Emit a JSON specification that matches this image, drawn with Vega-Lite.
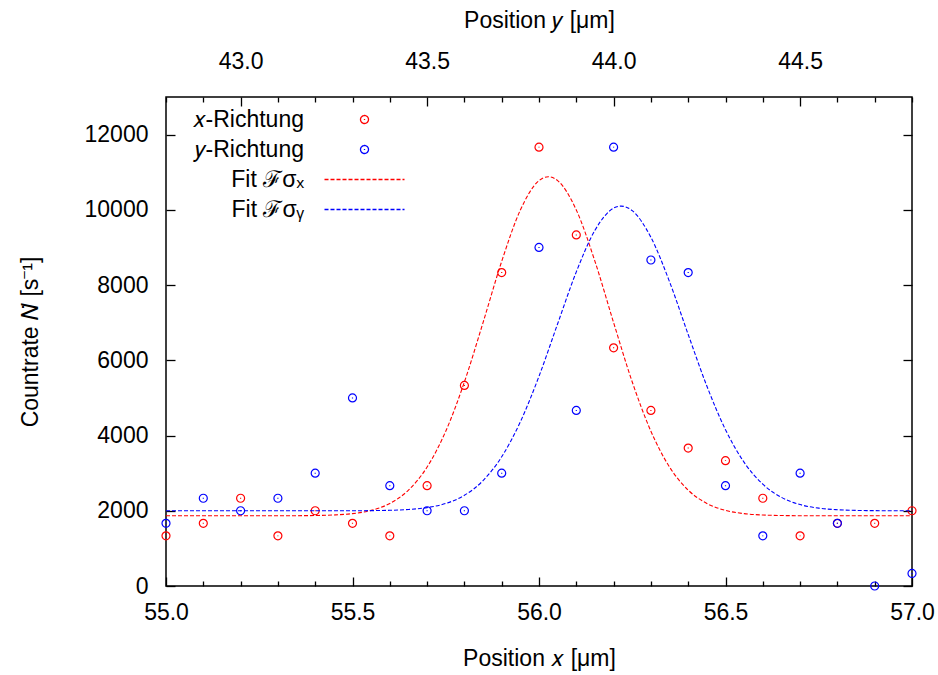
{
  "$schema": "https://vega.github.io/schema/vega-lite/v6.json",
  "width": 746,
  "height": 489,
  "autosize": "none",
  "padding": {"left": 166, "top": 97, "right": 26, "bottom": 89},
  "background": "white",
  "config": {
    "font": "Liberation Sans",
    "view": {"stroke": "black", "strokeWidth": 1.5},
    "axis": {
      "labelFont": "Liberation Sans", "labelFontSize": 23, "labelColor": "black",
      "titleFont": "Liberation Sans", "titleFontSize": 23, "titleFontWeight": "normal", "titleColor": "black",
      "domain": false, "grid": false, "tickColor": "black", "tickWidth": 1.3,
      "labelFlush": false, "labelOverlap": false
    }
  },
  "datasets": {
    "xdata": [
      {"pos": 55.0, "rate": 1333}, {"pos": 55.1, "rate": 1667}, {"pos": 55.2, "rate": 2333},
      {"pos": 55.3, "rate": 1333}, {"pos": 55.4, "rate": 2000}, {"pos": 55.5, "rate": 1667},
      {"pos": 55.6, "rate": 1333}, {"pos": 55.7, "rate": 2667}, {"pos": 55.8, "rate": 5333},
      {"pos": 55.9, "rate": 8333}, {"pos": 56.0, "rate": 11667}, {"pos": 56.1, "rate": 9333},
      {"pos": 56.2, "rate": 6333}, {"pos": 56.3, "rate": 4667}, {"pos": 56.4, "rate": 3667},
      {"pos": 56.5, "rate": 3333}, {"pos": 56.6, "rate": 2333}, {"pos": 56.7, "rate": 1333},
      {"pos": 56.8, "rate": 1667}, {"pos": 56.9, "rate": 1667}, {"pos": 57.0, "rate": 2000}
    ],
    "ydata": [
      {"pos": 42.8, "rate": 1667}, {"pos": 42.9, "rate": 2333}, {"pos": 43.0, "rate": 2000},
      {"pos": 43.1, "rate": 2333}, {"pos": 43.2, "rate": 3000}, {"pos": 43.3, "rate": 5000},
      {"pos": 43.4, "rate": 2667}, {"pos": 43.5, "rate": 2000}, {"pos": 43.6, "rate": 2000},
      {"pos": 43.7, "rate": 3000}, {"pos": 43.8, "rate": 9000}, {"pos": 43.9, "rate": 4667},
      {"pos": 44.0, "rate": 11667}, {"pos": 44.1, "rate": 8667}, {"pos": 44.2, "rate": 8333},
      {"pos": 44.3, "rate": 2667}, {"pos": 44.4, "rate": 1333}, {"pos": 44.5, "rate": 3000},
      {"pos": 44.6, "rate": 1667}, {"pos": 44.7, "rate": 0}, {"pos": 44.8, "rate": 333}
    ],
    "xfit": [
      {"pos": 55.0, "rate": 1867}, {"pos": 55.2, "rate": 1867}, {"pos": 55.3, "rate": 1868},
      {"pos": 55.35, "rate": 1869}, {"pos": 55.4, "rate": 1874}, {"pos": 55.45, "rate": 1888},
      {"pos": 55.5, "rate": 1924}, {"pos": 55.55, "rate": 2010}, {"pos": 55.6, "rate": 2194},
      {"pos": 55.65, "rate": 2548}, {"pos": 55.7, "rate": 3162}, {"pos": 55.75, "rate": 4115},
      {"pos": 55.8, "rate": 5424}, {"pos": 55.85, "rate": 7003}, {"pos": 55.9, "rate": 8631},
      {"pos": 55.95, "rate": 9995}, {"pos": 56.0, "rate": 10777}, {"pos": 56.025, "rate": 10880},
      {"pos": 56.05, "rate": 10777}, {"pos": 56.1, "rate": 9995}, {"pos": 56.15, "rate": 8631},
      {"pos": 56.2, "rate": 7003}, {"pos": 56.25, "rate": 5424}, {"pos": 56.3, "rate": 4115},
      {"pos": 56.35, "rate": 3162}, {"pos": 56.4, "rate": 2548}, {"pos": 56.45, "rate": 2194},
      {"pos": 56.5, "rate": 2010}, {"pos": 56.55, "rate": 1924}, {"pos": 56.6, "rate": 1888},
      {"pos": 56.65, "rate": 1874}, {"pos": 56.7, "rate": 1869}, {"pos": 56.8, "rate": 1867},
      {"pos": 57.0, "rate": 1867}
    ],
    "yfit": [
      {"pos": 42.8, "rate": 2000}, {"pos": 43.3, "rate": 2001}, {"pos": 43.4, "rate": 2012},
      {"pos": 43.45, "rate": 2034}, {"pos": 43.5, "rate": 2084}, {"pos": 43.55, "rate": 2194},
      {"pos": 43.6, "rate": 2411}, {"pos": 43.65, "rate": 2802}, {"pos": 43.7, "rate": 3436},
      {"pos": 43.75, "rate": 4364}, {"pos": 43.8, "rate": 5576}, {"pos": 43.85, "rate": 6972},
      {"pos": 43.9, "rate": 8351}, {"pos": 43.95, "rate": 9457}, {"pos": 44.0, "rate": 10046},
      {"pos": 44.02, "rate": 10100}, {"pos": 44.05, "rate": 9978}, {"pos": 44.1, "rate": 9270},
      {"pos": 44.15, "rate": 8088}, {"pos": 44.2, "rate": 6686}, {"pos": 44.25, "rate": 5315},
      {"pos": 44.3, "rate": 4155}, {"pos": 44.35, "rate": 3287}, {"pos": 44.4, "rate": 2707},
      {"pos": 44.45, "rate": 2357}, {"pos": 44.5, "rate": 2165}, {"pos": 44.55, "rate": 2070},
      {"pos": 44.6, "rate": 2028}, {"pos": 44.65, "rate": 2010}, {"pos": 44.7, "rate": 2003},
      {"pos": 44.8, "rate": 2000}
    ]
  },
  "layer": [
    {
      "encoding": {
        "x": {
          "field": "pos", "type": "quantitative",
          "scale": {"domain": [55.0, 57.0], "nice": false, "zero": false},
          "axis": {
            "orient": "bottom",
            "values": [55.0, 55.1, 55.2, 55.3, 55.4, 55.5, 55.6, 55.7, 55.8, 55.9, 56.0, 56.1, 56.2, 56.3, 56.4, 56.5, 56.6, 56.7, 56.8, 56.9, 57.0],
            "labelExpr": "round(datum.value*10) % 5 === 0 ? format(datum.value, '.1f') : ''",
            "tickSize": {"condition": {"test": "round(datum.value*10) % 5 === 0", "value": -9}, "value": -5},
            "labelPadding": 24,
            "title": "Position 𝑥 [μm]",
            "titlePadding": 19
          }
        },
        "y": {
          "field": "rate", "type": "quantitative",
          "scale": {"domain": [0, 13000], "nice": false},
          "axis": {
            "orient": "left",
            "values": [0, 2000, 4000, 6000, 8000, 10000, 12000],
            "format": "d",
            "tickSize": -9,
            "labelPadding": 27,
            "title": "Countrate 𝑁̇ [s⁻¹]",
            "titlePadding": 42
          }
        }
      },
      "layer": [
        {
          "data": {"name": "xfit"},
          "mark": {"type": "line", "strokeWidth": 1.1, "strokeDash": [4, 2], "interpolate": "monotone", "clip": true},
          "encoding": {
            "color": {
              "datum": "Fit ℱσₓ", "type": "nominal",
              "scale": {"domain": ["𝑥-Richtung", "𝑦-Richtung", "Fit ℱσₓ", "Fit ℱσᵧ"], "range": ["#ff0000", "#0000ff", "#ff0000", "#0000ff"]},
              "legend": {
                "orient": "none", "legendX": 187, "legendY": 11,
                "title": null,
                "labelFont": "Liberation Sans", "labelFontSize": 23, "labelColor": "black",
                "labelAlign": "right", "labelOffset": -72,
                "symbolSize": 64, "symbolStrokeWidth": 1.2, "symbolFillColor": "transparent",
                "rowPadding": 6,
                "encode": {
                  "symbols": {
                    "update": {
                      "shape": {"signal": "indexof(datum.value, 'Fit') === 0 ? 'M -10 0 L 10 0' : 'M -1 0 A 1 1 0 1 0 1 0 A 1 1 0 1 0 -1 0 M 0 -0.12 L 0 0.12'"},
                      "strokeDash": {"signal": "indexof(datum.value, 'Fit') === 0 ? [4, 2] : [1, 0]"},
                      "stroke": {"scale": "color", "field": "value"},
                      "strokeWidth": {"value": 1.3},
                      "opacity": {"value": 1},
                      "fill": {"value": "transparent"}
                    }
                  }
                }
              }
            }
          }
        },
        {
          "data": {"name": "xdata"},
          "mark": {"type": "point", "shape": "M -1 0 A 1 1 0 1 0 1 0 A 1 1 0 1 0 -1 0 M 0 -0.12 L 0 0.12", "filled": false, "size": 64, "strokeWidth": 1.2, "opacity": 1},
          "encoding": {"color": {"datum": "𝑥-Richtung", "type": "nominal"}}
        }
      ]
    },
    {
      "encoding": {
        "x": {
          "field": "pos", "type": "quantitative",
          "scale": {"domain": [42.8, 44.8], "nice": false, "zero": false},
          "axis": {
            "orient": "top",
            "values": [42.8, 42.9, 43.0, 43.1, 43.2, 43.3, 43.4, 43.5, 43.6, 43.7, 43.8, 43.9, 44.0, 44.1, 44.2, 44.3, 44.4, 44.5, 44.6, 44.7, 44.8],
            "labelExpr": "round(datum.value*10) % 5 === 0 ? format(datum.value, '.1f') : ''",
            "tickSize": {"condition": {"test": "round(datum.value*10) % 5 === 0", "value": -9}, "value": -5},
            "labelPadding": 33,
            "title": "Position 𝑦 [μm]",
            "titlePadding": 14
          }
        },
        "y": {
          "field": "rate", "type": "quantitative",
          "scale": {"domain": [0, 13000], "nice": false},
          "axis": {
            "orient": "right",
            "values": [0, 2000, 4000, 6000, 8000, 10000, 12000],
            "tickSize": -9,
            "labels": false,
            "title": null
          }
        }
      },
      "layer": [
        {
          "data": {"name": "yfit"},
          "mark": {"type": "line", "strokeWidth": 1.1, "strokeDash": [4, 2], "interpolate": "monotone", "clip": true},
          "encoding": {"color": {"datum": "Fit ℱσᵧ", "type": "nominal"}}
        },
        {
          "data": {"name": "ydata"},
          "mark": {"type": "point", "shape": "M -1 0 A 1 1 0 1 0 1 0 A 1 1 0 1 0 -1 0 M 0 -0.12 L 0 0.12", "filled": false, "size": 64, "strokeWidth": 1.2, "opacity": 1},
          "encoding": {"color": {"datum": "𝑦-Richtung", "type": "nominal"}}
        }
      ]
    }
  ],
  "resolve": {"scale": {"x": "independent"}, "axis": {"y": "independent"}}
}
